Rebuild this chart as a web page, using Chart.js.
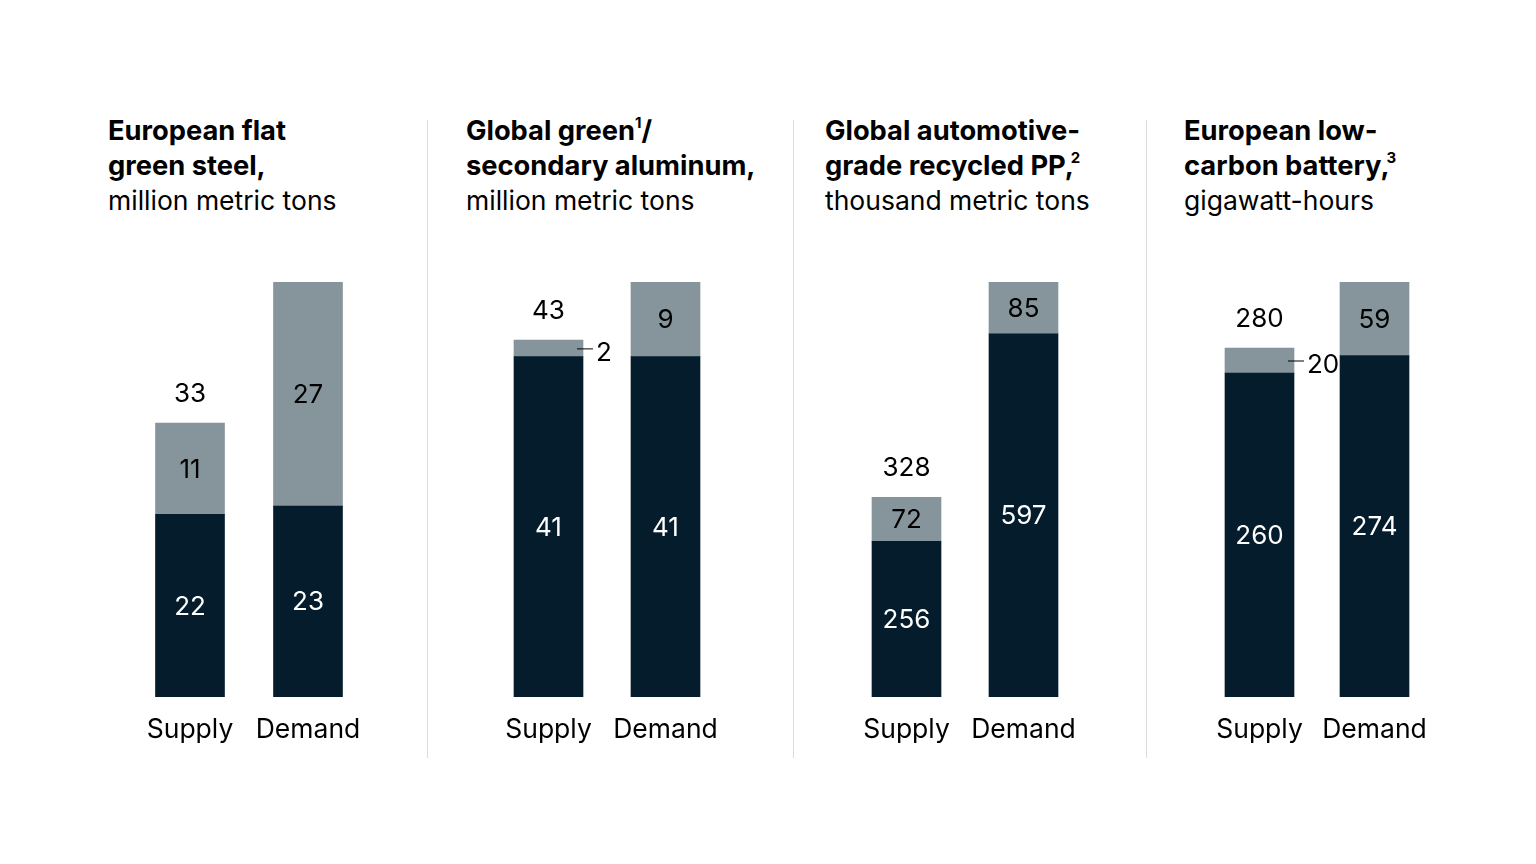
<!DOCTYPE html>
<html>
<head>
<meta charset="utf-8">
<script src="https://cdn.jsdelivr.net/npm/chart.js@4.4.0/dist/chart.umd.min.js"></script>
<style>
	body { margin: 0; background: #fff; width: 1536px; height: 864px; overflow: hidden; position: relative; font-family: Inter, "Liberation Sans", sans-serif; }
	.titulo { position: absolute; top: 113px; font-size: 26.5px; line-height: 35px; color: #000; white-space: nowrap; }
	.titulo b { font-weight: 700; font-size: 27.3px; }
	.titulo sup { font-size: 15px; line-height: 0; vertical-align: 12px; margin-left: -3px; }
	.divisor { position: absolute; top: 120px; height: 638px; width: 1px; background: #dcdcdc; }
	.painel { position: absolute; top: 240px; }
</style>
</head>
<body>

<div class="titulo" style="left:108px"><b>European flat<br>green steel,</b><br>million metric tons</div>
<div class="titulo" style="left:466px"><b>Global green<sup style="margin-left:0">1</sup>/<br>secondary aluminum,</b><br>million metric tons</div>
<div class="titulo" style="left:825px"><b>Global automotive-<br>grade recycled PP,<sup>2</sup></b><br>thousand metric tons</div>
<div class="titulo" style="left:1184px"><b>European low-<br>carbon battery,<sup>3</sup></b><br>gigawatt-hours</div>

<div class="divisor" style="left:427px"></div>
<div class="divisor" style="left:793px"></div>
<div class="divisor" style="left:1146px"></div>

<div class="painel" id="painelAco"><canvas id="graficoAco"></canvas></div>
<div class="painel" id="painelAluminio"><canvas id="graficoAluminio"></canvas></div>
<div class="painel" id="painelPP"><canvas id="graficoPP"></canvas></div>
<div class="painel" id="painelBateria"><canvas id="graficoBateria"></canvas></div>

<script>
// dados
var categorias = ['Supply', 'Demand'];

var acoBase = [22, 23];
var acoTopo = [11, 27];

var aluminioBase = [41, 41];
var aluminioTopo = [2, 9];

var ppBase = [256, 597];
var ppTopo = [72, 85];

var bateriaBase = [260, 274];
var bateriaTopo = [20, 59];

var COR_ESCURA = '#051c2c';
var COR_CINZA = '#86949b';
var FONTE = 'Inter, "Liberation Sans", sans-serif';

// rotulos de valor desenhados a partir das barras do proprio Chart.js
var rotulos = {
	id: 'rotulos',
	afterDatasetsDraw: function(chart) {
		var ctx = chart.ctx;
		var barrasBase = chart.getDatasetMeta(0).data;
		var barrasTopo = chart.getDatasetMeta(1).data;
		var base = chart.data.datasets[0].data;
		var topo = chart.data.datasets[1].data;

		ctx.save();
		ctx.font = '26px ' + FONTE;
		ctx.textBaseline = 'middle';
		ctx.textAlign = 'center';

		barrasBase.forEach(function(b, i) {
			ctx.fillStyle = '#fff';
			ctx.fillText(base[i], b.x, (b.y + b.base) / 2 + 1);

			var t = barrasTopo[i];
			var altura = t.base - t.y;
			ctx.fillStyle = '#000';
			if (altura > 30) {
				ctx.fillText(topo[i], t.x, (t.y + t.base) / 2 + 1);
			} else {
				// valor pequeno: fora da barra, com linha guia
				var meio = (t.y + t.base) / 2;
				var direita = t.x + t.width / 2;
				ctx.strokeStyle = '#000';
				ctx.lineWidth = 1;
				ctx.beginPath();
				ctx.moveTo(direita - 6, meio + 0.5);
				ctx.lineTo(direita + 10, meio + 0.5);
				ctx.stroke();
				ctx.textAlign = 'left';
				ctx.fillText(topo[i], direita + 13, meio + 5);
				ctx.textAlign = 'center';
			}

			// total apenas acima da barra de oferta
			if (i === 0) {
				ctx.fillText(base[i] + topo[i], t.x, t.y - 29);
			}
		});
		ctx.restore();
	}
};

function criarPainel(idPainel, idCanvas, valoresBase, valoresTopo, centro, espaco) {
	var alturaTopo = 42;
	var alturaArea = 415;
	var alturaEixo = 60;
	var margem = 30;

	var painel = document.getElementById(idPainel);
	painel.style.left = (centro - espaco / 2 - margem) + 'px';

	var canvas = document.getElementById(idCanvas);
	canvas.width = espaco * 2 + margem * 2;
	canvas.height = alturaTopo + alturaArea + alturaEixo;

	var maximo = valoresBase[1] + valoresTopo[1];

	return new Chart(canvas.getContext('2d'), {
		type: 'bar',
		data: {
			labels: categorias,
			datasets: [{
				data: valoresBase,
				backgroundColor: COR_ESCURA,
				barThickness: 69
			}, {
				data: valoresTopo,
				backgroundColor: COR_CINZA,
				barThickness: 69
			}]
		},
		options: {
			responsive: false,
			animation: false,
			devicePixelRatio: 1,
			layout: { padding: { top: alturaTopo, left: margem, right: margem, bottom: 0 } },
			plugins: { legend: { display: false }, tooltip: { enabled: false } },
			scales: {
				x: {
					stacked: true,
					border: { display: false },
					grid: { display: false, drawTicks: false },
					ticks: { color: '#000', padding: 17, font: { family: FONTE, size: 26.5 } },
					afterFit: function(escala) { escala.height = alturaEixo; }
				},
				y: {
					stacked: true,
					display: false,
					min: 0,
					max: maximo
				}
			}
		},
		plugins: [rotulos]
	});
}

criarPainel('painelAco', 'graficoAco', acoBase, acoTopo, 189.5, 118);
criarPainel('painelAluminio', 'graficoAluminio', aluminioBase, aluminioTopo, 548.5, 117);
criarPainel('painelPP', 'graficoPP', ppBase, ppTopo, 906.5, 117);
criarPainel('painelBateria', 'graficoBateria', bateriaBase, bateriaTopo, 1259.5, 115);
</script>
</body>
</html>
